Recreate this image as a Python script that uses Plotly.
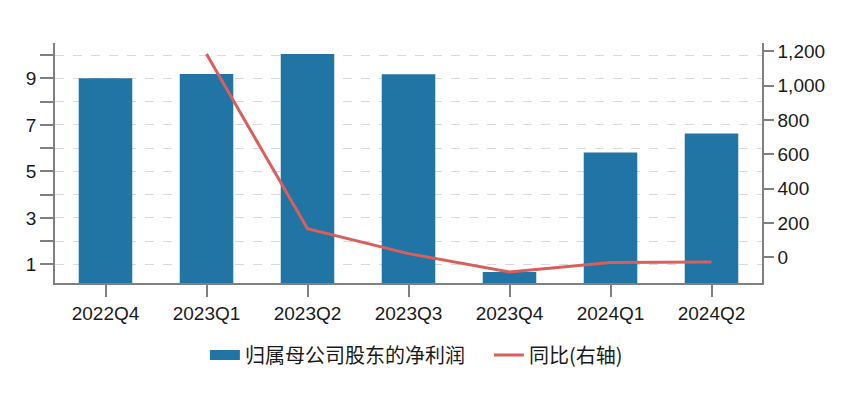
import plotly.graph_objects as go

categories = ["2022Q4", "2023Q1", "2023Q2", "2023Q3", "2023Q4", "2024Q1", "2024Q2"]
net_profit = [9.0, 9.19, 10.05, 9.18, 0.67, 5.81, 6.63]
yoy = [None, 1185, 167, 22, -85, -29, -27]
left_ticks = [1, 2, 3, 4, 5, 6, 7, 8, 9, 10]
left_labels = ["1", "", "3", "", "5", "", "7", "", "9", ""]
right_ticks = [0, 200, 400, 600, 800, 1000, 1200]
right_labels = ["0", "200", "400", "600", "800", "1,000", "1,200"]
bar_name = "归属母公司股东的净利润"
line_name = "同比(右轴)"

BAR = "#2075a4"
LINE = "#d95f5d"
AXIS = "#808080"
FONT = "Liberation Sans, Arial, Noto Sans CJK SC, sans-serif"

fig = go.Figure()
fig.add_trace(go.Bar(
    x=categories, y=net_profit, name=bar_name, legendgroup="bar", showlegend=False,
    marker=dict(color=BAR, line=dict(width=0)), width=0.53, yaxis="y",
))
# legend swatch for the bars (wide block, as in the reference)
fig.add_trace(go.Scatter(
    x=[categories[0]], y=[None], name=bar_name, legendgroup="bar", mode="lines",
    line=dict(color=BAR, width=17), yaxis="y", hoverinfo="skip",
))
fig.add_trace(go.Scatter(
    x=categories, y=yoy, name=line_name, mode="lines",
    line=dict(color=LINE, width=3), yaxis="y2", connectgaps=False,
))

fig.update_layout(
    width=848, height=407,
    margin=dict(l=55, r=86, t=43, b=124),
    paper_bgcolor="white", plot_bgcolor="white",
    font=dict(family=FONT, size=19, color="#1a1a1a"),
    showlegend=True,
    legend=dict(orientation="h", x=0.212, xanchor="left", y=-0.3, yanchor="middle",
                font=dict(family="Noto Sans CJK SC, sans-serif", size=20), itemwidth=30,
                entrywidth=239, entrywidthmode="pixels", traceorder="normal"),
    xaxis=dict(
        type="category", range=[-0.5, 6.5], showline=True, linecolor=AXIS, linewidth=1.5,
        ticks="outside", ticklen=12, tickcolor=AXIS, tickwidth=1.5, showgrid=False,
        tickfont=dict(size=19), fixedrange=True, automargin=False,
    ),
    yaxis=dict(
        range=[0.2, 10.52], tickmode="array", tickvals=left_ticks, ticktext=left_labels,
        showline=True, linecolor=AXIS, linewidth=1.5, ticks="outside", ticklen=13,
        tickcolor=AXIS, tickwidth=1.5, showgrid=True, gridcolor="#d9d9d9", griddash="dash",
        gridwidth=1, zeroline=False, tickfont=dict(size=19), automargin=False,
    ),
    yaxis2=dict(
        range=[-149, 1249], overlaying="y", side="right", tickmode="array",
        tickvals=right_ticks, ticktext=right_labels, showline=True, linecolor=AXIS,
        linewidth=1.5, ticks="outside", ticklen=10, tickcolor=AXIS, tickwidth=1.5,
        showgrid=False, zeroline=False, tickfont=dict(size=19), automargin=False,
    ),
    bargap=0.47,
)

fig.write_html(
    "out.html",
    config={"displayModeBar": False},
    post_script="document.body.style.margin='0';document.body.style.overflow='hidden';",
)
